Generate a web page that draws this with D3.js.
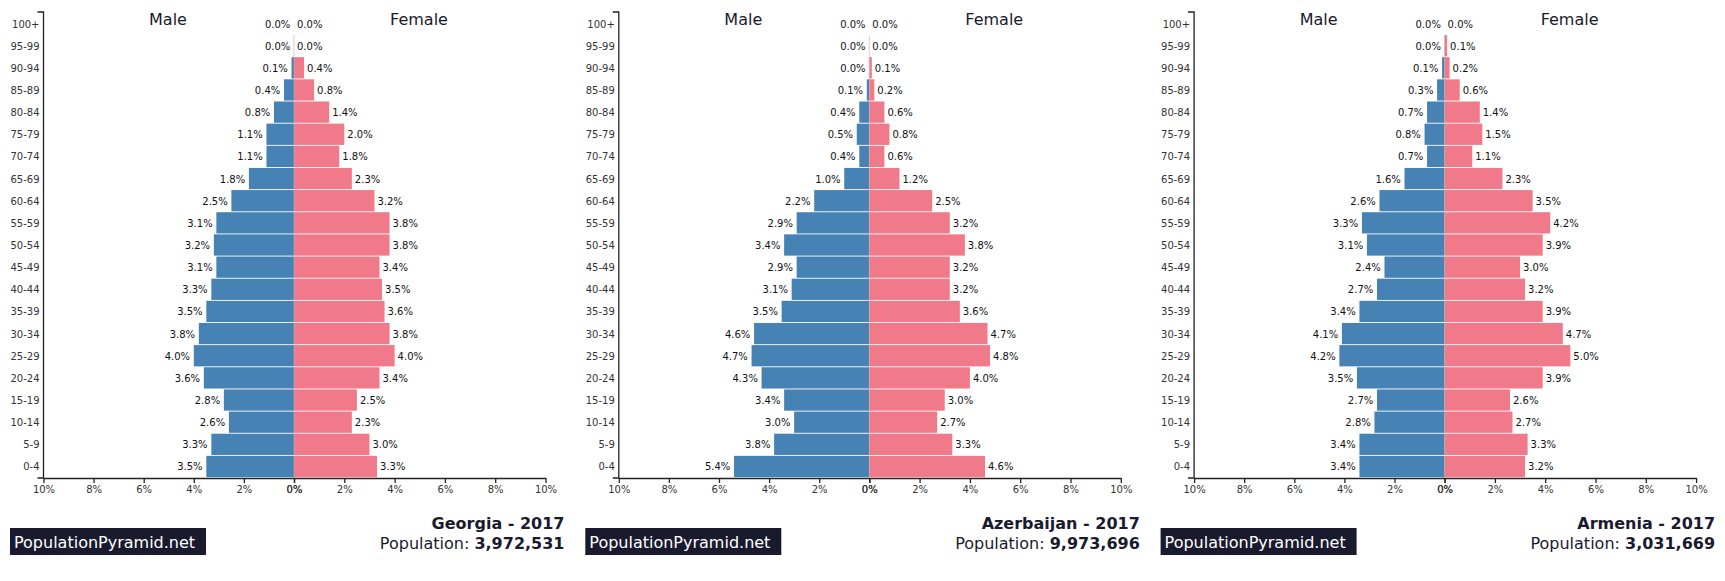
<!DOCTYPE html>
<html>
<head>
<meta charset="utf-8">
<script src="https://cdn.jsdelivr.net/npm/d3@7"></script>
<style>
  html, body { margin: 0; padding: 0; background: #fff; overflow: hidden; }
  text { font-family: "DejaVu Sans", sans-serif; }
</style>
</head>
<body>
<div id="viz"></div>
<script>
var ages = ["100+", "95-99", "90-94", "85-89", "80-84", "75-79", "70-74", "65-69", "60-64", "55-59", "50-54",
            "45-49", "40-44", "35-39", "30-34", "25-29", "20-24", "15-19", "10-14", "5-9", "0-4"];
var ticks = [0, 2, 4, 6, 8, 10];

var georgiaMale   = [0.0, 0.0, 0.1, 0.4, 0.8, 1.1, 1.1, 1.8, 2.5, 3.1, 3.2, 3.1, 3.3, 3.5, 3.8, 4.0, 3.6, 2.8, 2.6, 3.3, 3.5];
var georgiaFemale = [0.0, 0.0, 0.4, 0.8, 1.4, 2.0, 1.8, 2.3, 3.2, 3.8, 3.8, 3.4, 3.5, 3.6, 3.8, 4.0, 3.4, 2.5, 2.3, 3.0, 3.3];
var azerMale      = [0.0, 0.0, 0.0, 0.1, 0.4, 0.5, 0.4, 1.0, 2.2, 2.9, 3.4, 2.9, 3.1, 3.5, 4.6, 4.7, 4.3, 3.4, 3.0, 3.8, 5.4];
var azerFemale    = [0.0, 0.0, 0.1, 0.2, 0.6, 0.8, 0.6, 1.2, 2.5, 3.2, 3.8, 3.2, 3.2, 3.6, 4.7, 4.8, 4.0, 3.0, 2.7, 3.3, 4.6];
var armeniaMale   = [0.0, 0.0, 0.1, 0.3, 0.7, 0.8, 0.7, 1.6, 2.6, 3.3, 3.1, 2.4, 2.7, 3.4, 4.1, 4.2, 3.5, 2.7, 2.8, 3.4, 3.4];
var armeniaFemale = [0.0, 0.1, 0.2, 0.6, 1.4, 1.5, 1.1, 2.3, 3.5, 4.2, 3.9, 3.0, 3.2, 3.9, 4.7, 5.0, 3.9, 2.6, 2.7, 3.3, 3.2];

var countries = ["Georgia", "Azerbaijan", "Armenia"];
var populations = ["3,972,531", "9,973,696", "3,031,669"];
var year = 2017;
var maleSeries = [georgiaMale, azerMale, armeniaMale];
var femaleSeries = [georgiaFemale, azerFemale, armeniaFemale];

var ink = "#1a1a2e";
var plot = { left: 43.5, mid: 294, right: 545.5, top: 12, bottom: 478 };

var svg = d3.select("#viz").append("svg")
    .attr("width", 1725)
    .attr("height", 581);

countries.forEach(function(country, i) {
    var g = svg.append("g").attr("transform", "translate(" + (i * 575.3) + ",0)");

    var y = d3.scaleBand().domain(ages).range([plot.top, plot.bottom]).padding(0.04);
    var xMale = d3.scaleLinear().domain([10, 0]).range([plot.left, plot.mid]);
    var xFemale = d3.scaleLinear().domain([0, 10]).range([plot.mid, plot.right]);

    // bars
    g.selectAll(".male").data(maleSeries[i]).enter().append("rect")
        .attr("x", function(d) { return xMale(d); })
        .attr("y", function(d, j) { return y(ages[j]); })
        .attr("width", function(d) { return plot.mid - xMale(d); })
        .attr("height", y.bandwidth())
        .attr("fill", "steelblue");

    g.selectAll(".female").data(femaleSeries[i]).enter().append("rect")
        .attr("x", plot.mid)
        .attr("y", function(d, j) { return y(ages[j]); })
        .attr("width", function(d) { return xFemale(d) - plot.mid; })
        .attr("height", y.bandwidth())
        .attr("fill", "#f0798a");

    // center hairline
    g.append("line")
        .attr("x1", plot.mid).attr("x2", plot.mid)
        .attr("y1", y(ages[1])).attr("y2", plot.bottom)
        .attr("stroke", "#d9a3ad").attr("stroke-width", 0.6);

    // value labels
    g.selectAll(".mlabel").data(maleSeries[i]).enter().append("text")
        .attr("x", function(d) { return xMale(d) - 3.7; })
        .attr("y", function(d, j) { return y(ages[j]) + y.bandwidth() / 2 + 0.5; })
        .attr("dy", "0.35em")
        .attr("text-anchor", "end")
        .attr("font-size", 10)
        .attr("fill", "#111")
        .text(function(d) { return d.toFixed(1) + "%"; });

    g.selectAll(".flabel").data(femaleSeries[i]).enter().append("text")
        .attr("x", function(d) { return xFemale(d) + 3; })
        .attr("y", function(d, j) { return y(ages[j]) + y.bandwidth() / 2 + 0.5; })
        .attr("dy", "0.35em")
        .attr("font-size", 10)
        .attr("fill", "#111")
        .text(function(d) { return d.toFixed(1) + "%"; });

    // axes
    var fmt = function(d) { return d + "%"; };
    var axisM = g.append("g").attr("transform", "translate(0," + plot.bottom + ")")
        .call(d3.axisBottom(xMale).tickValues(ticks).tickFormat(fmt).tickSize(5).tickSizeOuter(0));
    var axisF = g.append("g").attr("transform", "translate(0," + plot.bottom + ")")
        .call(d3.axisBottom(xFemale).tickValues(ticks).tickFormat(fmt).tickSize(5).tickSizeOuter(0));
    var axisY = g.append("g").attr("transform", "translate(" + plot.left + ",0)")
        .call(d3.axisLeft(y).tickSize(0).tickPadding(4));
    axisY.select(".domain").attr("d", "M-6," + plot.top + "H0V" + plot.bottom + "H-6");
    axisY.selectAll("text").attr("dy", "0.4em");

    [axisM, axisF, axisY].forEach(function(a) {
        a.attr("font-family", "DejaVu Sans").attr("font-size", 10);
        a.selectAll("path,line").attr("stroke", "#222").attr("stroke-width", 1.3);
        a.selectAll("text").attr("fill", "#333");
    });

    // headings
    g.append("text").attr("x", 168).attr("y", 24.5).attr("text-anchor", "middle")
        .attr("font-size", 16).attr("fill", ink).text("Male");
    g.append("text").attr("x", 419).attr("y", 24.5).attr("text-anchor", "middle")
        .attr("font-size", 16).attr("fill", ink).text("Female");

    // logo
    g.append("rect").attr("x", 10).attr("y", 528).attr("width", 196).attr("height", 27).attr("fill", ink);
    g.append("text").attr("x", 14).attr("y", 547.7).attr("font-size", 16).attr("fill", "#fff")
        .text("PopulationPyramid.net");

    // title block
    g.append("text").attr("x", 564.5).attr("y", 529).attr("text-anchor", "end")
        .attr("font-size", 16).attr("font-weight", "bold").attr("fill", ink)
        .text(country + " - " + year);
    var pop = g.append("text").attr("x", 564.5).attr("y", 548.5).attr("text-anchor", "end")
        .attr("font-size", 16).attr("fill", ink);
    pop.append("tspan").text("Population: ");
    pop.append("tspan").attr("font-weight", "bold").text(populations[i]);
});
</script>
</body>
</html>
